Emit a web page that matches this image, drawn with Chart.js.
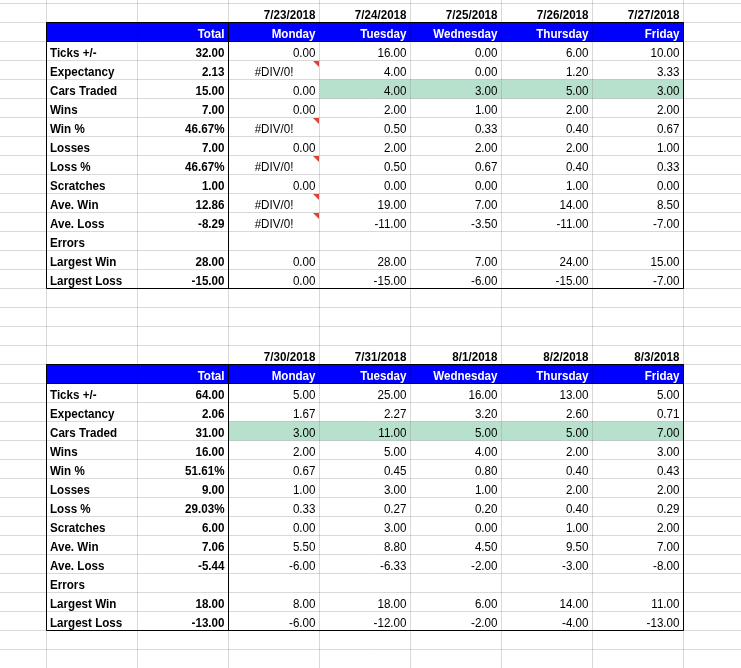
<!DOCTYPE html>
<html>
<head>
<meta charset="utf-8">
<script src="https://cdn.jsdelivr.net/npm/chart.js@4.4.0/dist/chart.umd.min.js"></script>
<style>
    html, body { margin: 0; padding: 0; background: #fff; }
    #wrap { width: 741px; height: 668px; }
</style>
</head>
<body>
<div id="wrap"><canvas id="sheet"></canvas></div>
<script>
// #DIV/0! cells are kept as NaN, empty cells as null
const DIV0 = NaN;

const rowLabels = ['Ticks +/-', 'Expectancy', 'Cars Traded', 'Wins', 'Win %', 'Losses', 'Loss %',
    'Scratches', 'Ave. Win', 'Ave. Loss', 'Errors', 'Largest Win', 'Largest Loss'];
const dayNames = ['Monday', 'Tuesday', 'Wednesday', 'Thursday', 'Friday'];
const percentRows = [4, 6]; // only the Total column shows these as %

// week of 7/23
const week1Dates = ['7/23/2018', '7/24/2018', '7/25/2018', '7/26/2018', '7/27/2018'];
const week1Total = [32, 2.13, 15, 7, 0.4667, 7, 0.4667, 1, 12.86, -8.29, null, 28, -15];
const week1Mon = [0, DIV0, 0, 0, DIV0, 0, DIV0, 0, DIV0, DIV0, null, 0, 0];
const week1Tue = [16, 4, 4, 2, 0.5, 2, 0.5, 0, 19, -11, null, 28, -15];
const week1Wed = [0, 0, 3, 1, 0.33, 2, 0.67, 0, 7, -3.5, null, 7, -6];
const week1Thu = [6, 1.2, 5, 2, 0.4, 2, 0.4, 1, 14, -11, null, 24, -15];
const week1Fri = [10, 3.33, 3, 2, 0.67, 1, 0.33, 0, 8.5, -7, null, 15, -7];

// week of 7/30
const week2Dates = ['7/30/2018', '7/31/2018', '8/1/2018', '8/2/2018', '8/3/2018'];
const week2Total = [64, 2.06, 31, 16, 0.5161, 9, 0.2903, 6, 7.06, -5.44, null, 18, -13];
const week2Mon = [5, 1.67, 3, 2, 0.67, 1, 0.33, 0, 5.5, -6, null, 8, -6];
const week2Tue = [25, 2.27, 11, 5, 0.45, 3, 0.27, 3, 8.8, -6.33, null, 18, -12];
const week2Wed = [16, 3.2, 5, 4, 0.8, 1, 0.2, 0, 4.5, -2, null, 6, -2];
const week2Thu = [13, 2.6, 5, 2, 0.4, 2, 0.4, 1, 9.5, -3, null, 14, -4];
const week2Fri = [5, 0.71, 7, 3, 0.43, 2, 0.29, 2, 7, -8, null, 11, -13];

const tables = [
    { top: 0, dates: week1Dates, total: week1Total, days: [week1Mon, week1Tue, week1Wed, week1Thu, week1Fri] },
    { top: 18, dates: week2Dates, total: week2Total, days: [week2Mon, week2Tue, week2Wed, week2Thu, week2Fri] }
];

// sheet geometry: columns 91px wide, rows 19px high
const COL_W = 91, ROW_H = 19, LEFT = 46.5, TOP = 3.5;
const FONT = '"Liberation Sans", Arial, sans-serif';
const TEXT_SQUEEZE = 0.86; // the screenshot text is narrower than plain Arial

function fmt(v, pct) {
    if (v === null) return '';
    if (Number.isNaN(v)) return '#DIV/0!';
    return pct ? (v * 100).toFixed(2) + '%' : v.toFixed(2);
}

const sheetPlugin = {
    id: 'sheet',
    beforeDatasetsDraw(chart) {
        const ctx = chart.ctx;
        const px = v => chart.scales.x.getPixelForValue(v);
        const py = v => chart.scales.y.getPixelForValue(v);
        ctx.save();
        tables.forEach(t => {
            // blue header band
            ctx.fillStyle = '#0000ff';
            ctx.fillRect(px(0), py(t.top + 1), px(7) - px(0), py(t.top + 2) - py(t.top + 1));
            // green Cars Traded cells
            const carsRow = t.top + 2 + rowLabels.indexOf('Cars Traded');
            t.days.forEach((d, i) => {
                if (d[2] > 0) {
                    ctx.fillStyle = '#b7e1cd';
                    ctx.fillRect(px(i + 2), py(carsRow), px(i + 3) - px(i + 2), py(carsRow + 1) - py(carsRow));
                }
            });
        });
        ctx.restore();
    },
    afterDraw(chart) {
        const ctx = chart.ctx;
        const px = v => chart.scales.x.getPixelForValue(v);
        const py = v => chart.scales.y.getPixelForValue(v);

        function text(str, col, row, align, bold, color) {
            if (!str) return;
            let x;
            if (align === 'right') x = px(col + 1) - 4;
            else if (align === 'left') x = px(col) + 3.5;
            else x = (px(col) + px(col + 1)) / 2;
            ctx.save();
            ctx.font = (bold ? 'bold ' : '') + '13.5px ' + FONT;
            ctx.fillStyle = color;
            ctx.textAlign = align;
            ctx.textBaseline = 'alphabetic';
            ctx.translate(x, py(row + 1) - 4);
            ctx.scale(TEXT_SQUEEZE, 1);
            ctx.fillText(str, 0, 0);
            ctx.restore();
        }

        ctx.save();
        tables.forEach(t => {
            const head = t.top + 1;
            const bottom = head + 1 + rowLabels.length;

            // black borders
            ctx.strokeStyle = '#000';
            ctx.lineWidth = 1;
            ctx.beginPath();
            ctx.rect(px(0), py(head), px(7) - px(0), py(bottom) - py(head));
            ctx.moveTo(px(0), py(head + 1));
            ctx.lineTo(px(7), py(head + 1));
            ctx.moveTo(px(2), py(head));
            ctx.lineTo(px(2), py(bottom));
            ctx.stroke();

            // date row and header row
            t.dates.forEach((d, i) => text(d, i + 2, t.top, 'right', true, '#000'));
            text('Total', 1, head, 'right', true, '#fff');
            dayNames.forEach((d, i) => text(d, i + 2, head, 'right', true, '#fff'));

            // body
            rowLabels.forEach((lab, r) => {
                const row = head + 1 + r;
                text(lab, 0, row, 'left', true, '#000');
                text(fmt(t.total[r], percentRows.includes(r)), 1, row, 'right', true, '#000');
                t.days.forEach((d, i) => {
                    const v = d[r];
                    if (Number.isNaN(v)) {
                        text(fmt(v), i + 2, row, 'center', false, '#000');
                        // comment marker in the top-right corner
                        const x1 = px(i + 3) - 0.5, y0 = py(row) + 0.5;
                        ctx.fillStyle = '#db4437';
                        ctx.beginPath();
                        ctx.moveTo(x1 - 6, y0);
                        ctx.lineTo(x1, y0);
                        ctx.lineTo(x1, y0 + 6);
                        ctx.closePath();
                        ctx.fill();
                    } else {
                        text(fmt(v), i + 2, row, 'right', false, '#000');
                    }
                });
            });
        });
        ctx.restore();
    }
};

const gridColor = 'rgba(0, 0, 0, 0.15)';

new Chart(document.getElementById('sheet'), {
    type: 'scatter',
    data: { datasets: [] },
    options: {
        responsive: true,
        maintainAspectRatio: false,
        animation: false,
        events: [],
        layout: { padding: 0 },
        plugins: { legend: { display: false }, tooltip: { enabled: false } },
        scales: {
            x: {
                type: 'linear',
                min: -LEFT / COL_W,
                max: (741 - LEFT) / COL_W,
                ticks: { display: false },
                grid: { color: gridColor, drawTicks: false, z: 1 },
                border: { display: false },
                afterBuildTicks: s => { s.ticks = [0, 1, 2, 3, 4, 5, 6, 7].map(v => ({ value: v })); },
                afterFit: s => { s.height = 0; }
            },
            y: {
                type: 'linear',
                reverse: true,
                min: -TOP / ROW_H,
                max: (668 - TOP) / ROW_H,
                ticks: { display: false },
                grid: { color: gridColor, drawTicks: false, z: 1 },
                border: { display: false },
                afterBuildTicks: s => { s.ticks = Array.from({ length: 35 }, (_, i) => ({ value: i })); },
                afterFit: s => { s.width = 0; }
            }
        }
    },
    plugins: [sheetPlugin]
});
</script>
</body>
</html>
